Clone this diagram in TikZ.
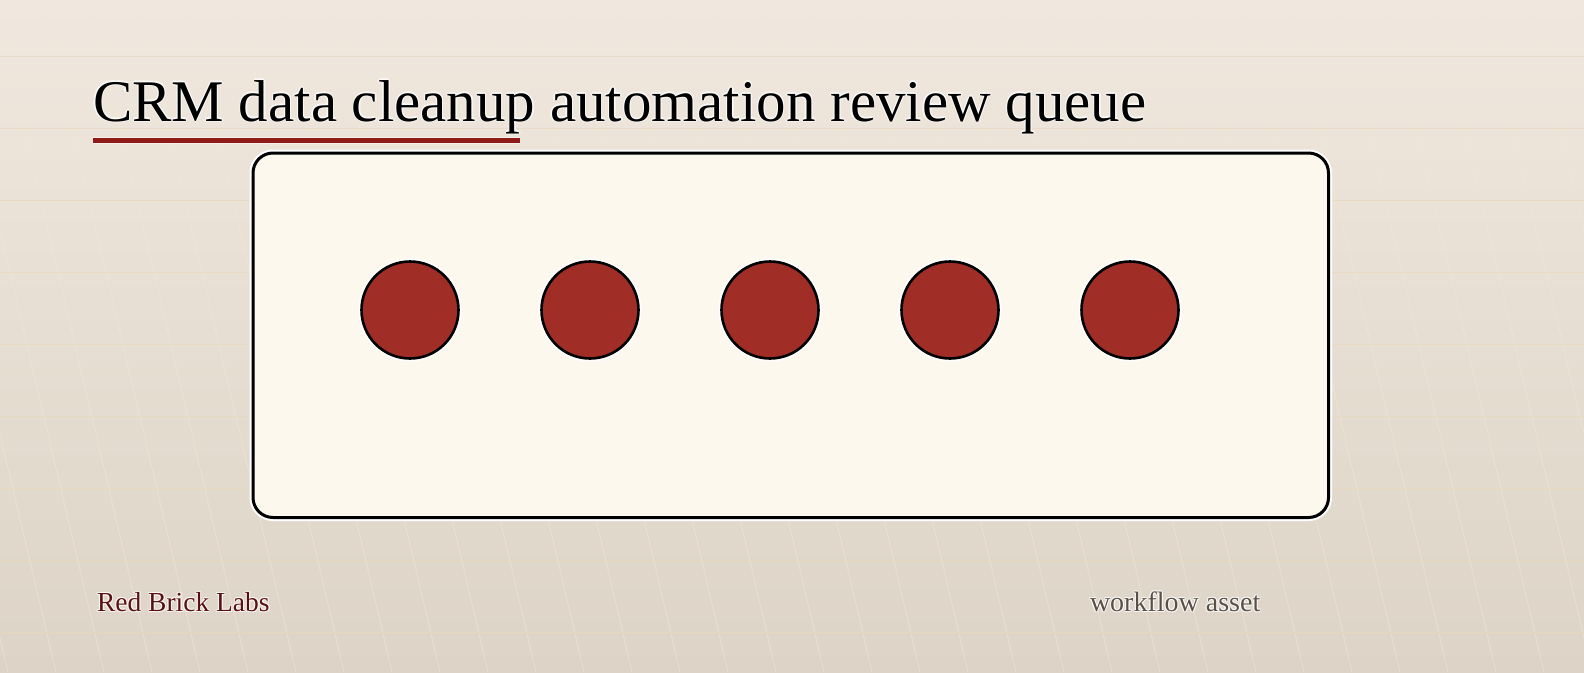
\documentclass[tikz,border=0pt]{standalone}
\usepackage{fontspec}
\setmainfont{Liberation Serif}
\definecolor{bgtop}{HTML}{F0E8DE}
\definecolor{bgbot}{HTML}{DDD4C7}
\definecolor{gridh}{HTML}{E8D8BE}
\definecolor{grids}{HTML}{F4E8D2}
\definecolor{panel}{HTML}{FDF8EE}
\definecolor{dot}{HTML}{A02E26}
\definecolor{rule}{HTML}{8E1B17}
\definecolor{brand}{HTML}{5B0F0F}
\definecolor{tagc}{HTML}{5A4F47}
\tikzset{
  txt/.style={anchor=base west,inner sep=0pt,outer sep=0pt},
  halo/.style={txt,text=white,opacity=0.55},
  dotnode/.style={circle,minimum size=97pt,inner sep=0pt,fill=dot,draw=black,line width=2.6pt},
  dothalo/.style={circle,minimum size=97pt,inner sep=0pt,draw=white,line width=6pt},
}
\newcommand\halotext[4]{%
  \foreach \dx/\dy [count=\i] in {1.2/0,-1.2/0,0/1.2,0/-1.2,0.9/0.9,-0.9/0.9,0.9/-0.9,-0.9/-0.9}
    \node[halo] (#1h\i) at ([shift={(\dx pt,\dy pt)}]#2) {#3};
  \node[txt,text=#4] (#1) at (#2) {#3};}
\begin{document}
\begin{tikzpicture}[x=1pt,y=-1pt]
\useasboundingbox (0,0) rectangle (1584,672);
\begin{scope}
\clip (0,0) rectangle (1584,672);
\shade[top color=bgtop,bottom color=bgbot] (0,0) rectangle (1584,672);
\foreach \k in {-5,...,33}
  \draw[grids,line width=0.7pt,opacity=0.6] ({42+48*\k},0) -- ({42+48*\k+158},672);
\foreach \k in {0,...,8}
  \draw[gridh,line width=0.9pt,opacity=0.7] (0,{56+72*\k}) -- (1584,{56+72*\k});
\end{scope}
% title
\coordinate (tpos) at (93,121);
\halotext{title}{tpos}{\fontsize{59}{70}\selectfont CRM data cleanup automation review queue}{black}
\coordinate (ulA) at (93,140.5);
\coordinate (ulB) at (520,140.5);
\draw[white,line width=7.5pt,opacity=0.5] (ulA) -- (ulB);
\draw[rule,line width=5pt] (ulA) -- (ulB);
% panel
\draw[white,line width=7pt,rounded corners=20pt] (253,153) rectangle (1328.5,517.5);
\draw[fill=panel,draw=black,line width=3pt,rounded corners=20pt] (253,153) rectangle (1328.5,517.5);
\node[inner sep=0pt] (panelc) at (790.75,335.25) {};
% dots
\foreach \n/\x in {1/410,2/590,3/770,4/950,5/1130}{
  \node[dothalo] (h\n) at (\x,310) {};
  \node[dotnode] (d\n) at (\x,310) {};
}
% footer
\coordinate (bpos) at (97,611.5);
\halotext{brandt}{bpos}{\fontsize{27.5}{33}\selectfont Red Brick Labs}{brand}
\coordinate (wpos) at (1090,611.5);
\halotext{tagt}{wpos}{\fontsize{28}{33}\selectfont workflow asset}{tagc}
\end{tikzpicture}
\end{document}
